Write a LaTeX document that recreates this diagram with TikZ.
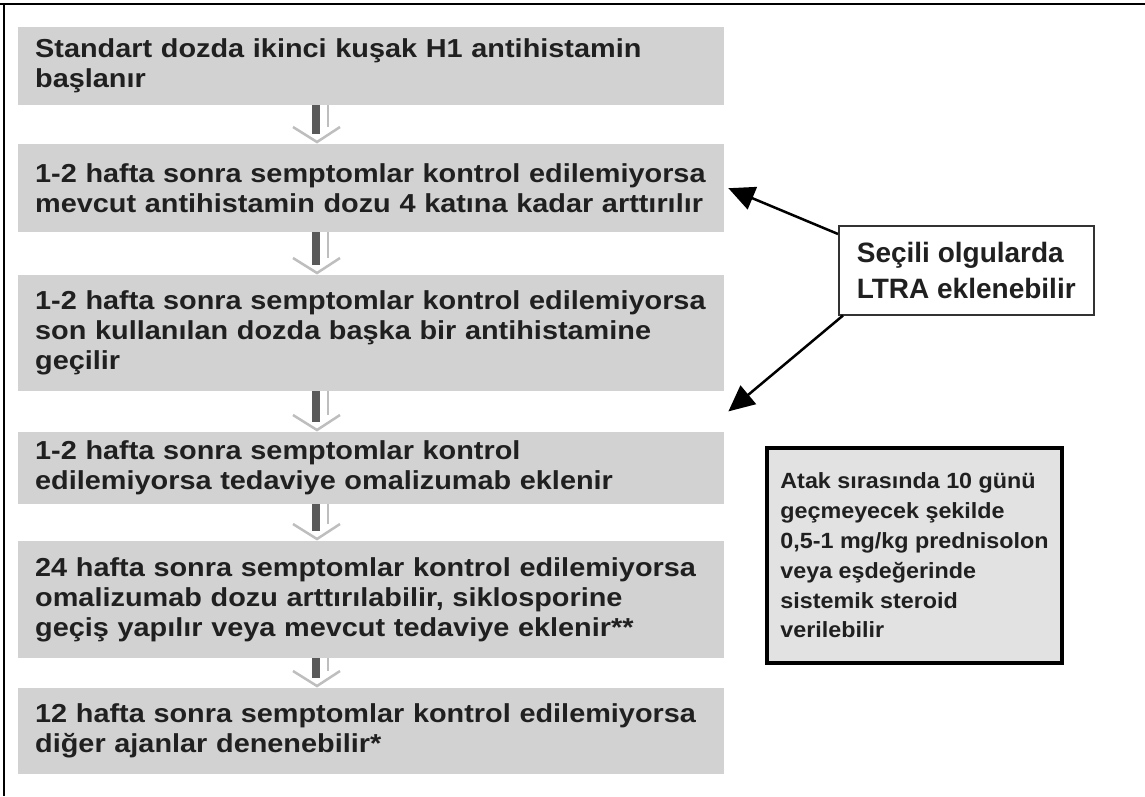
\documentclass[tikz,border=0pt]{standalone}
\usepackage{fontspec}
\setmainfont{Liberation Sans}
\newfontfamily\wideff[FakeStretch=1.11]{Liberation Sans}
\newfontfamily\atakff[FakeStretch=1.06]{Liberation Sans}
\usetikzlibrary{arrows.meta,calc}
\definecolor{boxgray}{RGB}{210,210,210}
\definecolor{txt}{RGB}{32,32,32}
\definecolor{shaftgray}{RGB}{90,90,90}
\definecolor{palegray}{RGB}{190,190,190}
\definecolor{atakfill}{RGB}{226,226,226}
\newcommand\rowtext[1]{\mbox{#1}}
\newcommand\flowarrow[2]{%
  \draw[palegray, line width=2pt] let \p1=(#1.south -| ax), \p2=(#2.north -| ax) in (\x1+12pt,\y1) -- (\x1+12pt,\y2+17pt);
  \draw[shaftgray, line width=8pt] let \p1=(#1.south -| ax), \p2=(#2.north -| ax) in (\x1,\y1) -- (\x1,\y2+10pt);
  \draw[palegray, line width=2.5pt, line join=miter] let \p1=(#1.south -| ax), \p2=(#2.north -| ax) in (\x1-23pt,\y2+17pt) -- (\x1+1pt,\y2+2pt) -- (\x1+24pt,\y2+17pt);
}
\begin{document}
\begin{tikzpicture}[x=1pt,y=-1pt,
  stepbox/.style={fill=boxgray, anchor=north west, minimum width=706pt, text width=672pt,
    inner xsep=17pt, inner ysep=0pt, align=left, text=txt,
    font=\wideff\bfseries\fontsize{26}{30}\selectfont},
  notebox/.style={draw=black!80, line width=1.5pt, fill=white, anchor=north west,
    minimum width=255pt, minimum height=89pt, inner xsep=9pt, align=left, text=txt,
    font=\bfseries\fontsize{28}{36}\selectfont},
  steroidbox/.style={draw=black, line width=4pt, fill=atakfill, anchor=north west,
    minimum width=295pt, minimum height=215pt, align=left, text=txt,
    font=\atakff\bfseries\fontsize{22}{29.8}\selectfont},
  bigarrow/.style={-{Triangle[length=26pt,width=24pt]}, line width=2.5pt, black}
]
\useasboundingbox (0,0) rectangle (1145,796);
\fill[white] (0,0) rectangle (1145,796);
\draw[line width=2.5pt] (0,4) -- (1145,4);
\draw[line width=2.5pt] (4,4) -- (4,796);
\coordinate (ax) at (316,0);

\node[stepbox, minimum height=78pt] (b1) at (18,27)
  {\rowtext{Standart dozda ikinci kuşak H1 antihistamin}\\\rowtext{başlanır}};
\node[stepbox, minimum height=88pt] (b2) at (18,144)
  {\rowtext{1-2 hafta sonra semptomlar kontrol edilemiyorsa}\\\rowtext{mevcut antihistamin dozu 4 katına kadar arttırılır}};
\node[stepbox, minimum height=116pt] (b3) at (18,275)
  {\rowtext{1-2 hafta sonra semptomlar kontrol edilemiyorsa}\\\rowtext{son kullanılan dozda başka bir antihistamine}\\\rowtext{geçilir}};
\node[stepbox, minimum height=72pt] (b4) at (18,432)
  {\rowtext{1-2 hafta sonra semptomlar kontrol}\\\rowtext{edilemiyorsa tedaviye omalizumab eklenir}};
\node[stepbox, minimum height=117pt] (b5) at (18,541)
  {\rowtext{24 hafta sonra semptomlar kontrol edilemiyorsa}\\\rowtext{omalizumab dozu arttırılabilir, siklosporine}\\\rowtext{geçiş yapılır veya mevcut tedaviye eklenir**}};
\node[stepbox, minimum height=86pt] (b6) at (18,688)
  {\rowtext{12 hafta sonra semptomlar kontrol edilemiyorsa}\\\rowtext{diğer ajanlar denenebilir*}};

\flowarrow{b1}{b2}
\flowarrow{b2}{b3}
\flowarrow{b3}{b4}
\flowarrow{b4}{b5}
\flowarrow{b5}{b6}

\node[notebox] (ltra) at (838,225) {Seçili olgularda\\LTRA eklenebilir};
\coordinate (tipA) at ($(b2.east)+(4,0)$);
\coordinate (tipB) at ($(b3.south east)+(4,20)$);
\draw[bigarrow] ($(ltra.north west)+(0,9)$) -- (tipA);
\draw[bigarrow] ($(ltra.south west)+(5,0)$) -- (tipB);

\node[steroidbox] (atak) at (765,446)
  {Atak sırasında 10 günü\\geçmeyecek şekilde\\0,5-1 mg/kg prednisolon\\veya eşdeğerinde\\sistemik steroid\\verilebilir};
\end{tikzpicture}
\end{document}
